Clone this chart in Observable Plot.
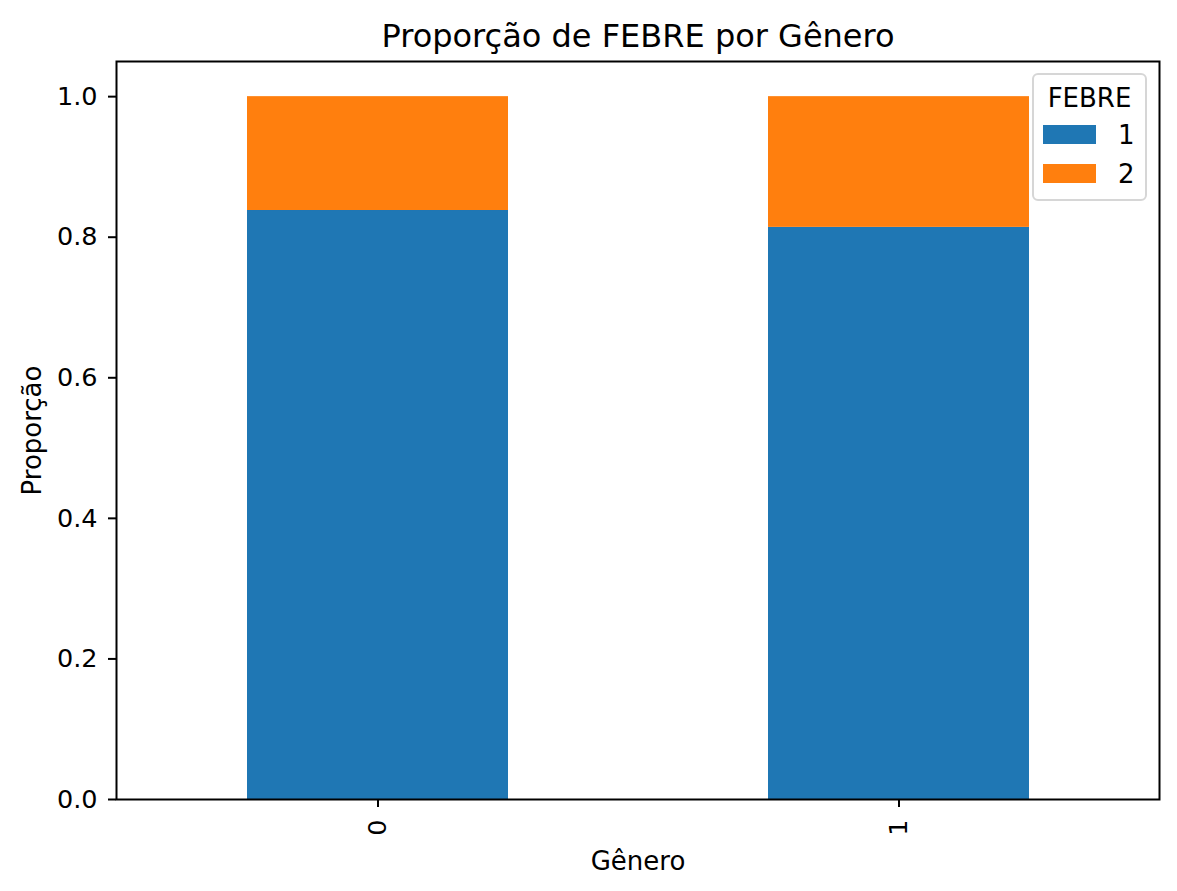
<!DOCTYPE html>
<html>
<head>
<meta charset="utf-8">
<script src="https://cdn.jsdelivr.net/npm/d3@7"></script>
<script src="https://cdn.jsdelivr.net/npm/@observablehq/plot@0.6"></script>
<style>
  body { margin: 0; background: #fff; font-family: "DejaVu Sans", sans-serif; }
  #wrap { position: relative; width: 1177px; height: 891px; }
  #legend {
    position: absolute; left: 1032px; top: 73px; width: 115px; height: 128px;
    border: 2px solid #d6d6d6; border-radius: 6px; background: rgba(255,255,255,0.8);
    box-sizing: border-box; font-size: 26px; color: #000; line-height: 1;
  }
  #legend .ttl { position: absolute; left: 0; right: 0; top: 10px; text-align: center; }
  #legend .row { position: absolute; left: 9px; height: 20px; }
  #legend .sw { position: absolute; left: 0; top: 0; width: 53px; height: 19px; }
  #legend .lb { position: absolute; left: 75px; top: -3px; }
</style>
</head>
<body>
<div id="wrap"></div>
<script>
const titleText = "Proporção de FEBRE por Gênero";
const xLabel = "Gênero";
const yLabel = "Proporção";
const legendTitle = "FEBRE";
const generos = ["0", "1"];
const febreLevels = ["1", "2"];
const febre1 = [0.838, 0.814];
const febre2 = [0.162, 0.186];
const colors = ["#1f77b4", "#ff7f0e"];
const yTicks = [0, 0.2, 0.4, 0.6, 0.8, 1.0];

const rows = [];
generos.forEach((g, i) => {
  rows.push({ genero: g, febre: febreLevels[0], value: febre1[i] });
  rows.push({ genero: g, febre: febreLevels[1], value: febre2[i] });
});

const chart = Plot.plot({
  width: 1177,
  height: 891,
  marginTop: 61,
  marginBottom: 92,
  marginLeft: 116,
  marginRight: 18,
  style: { fontFamily: "DejaVu Sans, sans-serif", fontSize: "25.5px", color: "#000", background: "#fff" },
  x: { domain: generos, paddingInner: 0.5, paddingOuter: 0.25 },
  y: { domain: [0, 1.05] },
  color: { domain: febreLevels, range: colors },
  marks: [
    Plot.barY(rows, { x: "genero", y: "value", fill: "febre", inset: 0 }),
    Plot.frame({ stroke: "#000", strokeWidth: 2 }),
    Plot.axisY({ ticks: yTicks, tickFormat: d3.format(".1f"), tickSize: 8, tickPadding: 11, strokeWidth: 2, fontSize: 25.5, label: null }),
    Plot.axisY({ ticks: [], label: yLabel, labelAnchor: "center", labelOffset: 94, labelArrow: false, fontSize: 26 }),
    Plot.axisX({ tickRotate: -90, tickSize: 8, tickPadding: 12, strokeWidth: 2, fontSize: 25.5, label: null }),
    Plot.axisX({ ticks: [], label: xLabel, labelAnchor: "center", labelOffset: 70, labelArrow: false, fontSize: 26 }),
    Plot.text([titleText], { frameAnchor: "top", lineAnchor: "middle", dy: -25, fontSize: 32, fill: "#000" })
  ]
});
const wrap = document.getElementById("wrap");
wrap.appendChild(chart);

const lg = document.createElement("div");
lg.id = "legend";
lg.innerHTML = `<div class="ttl">${legendTitle}</div>` +
  febreLevels.map((f, i) =>
    `<div class="row" style="top:${50 + i * 39}px"><div class="sw" style="background:${colors[i]}"></div><div class="lb">${f}</div></div>`
  ).join("");
wrap.appendChild(lg);
</script>
</body>
</html>
